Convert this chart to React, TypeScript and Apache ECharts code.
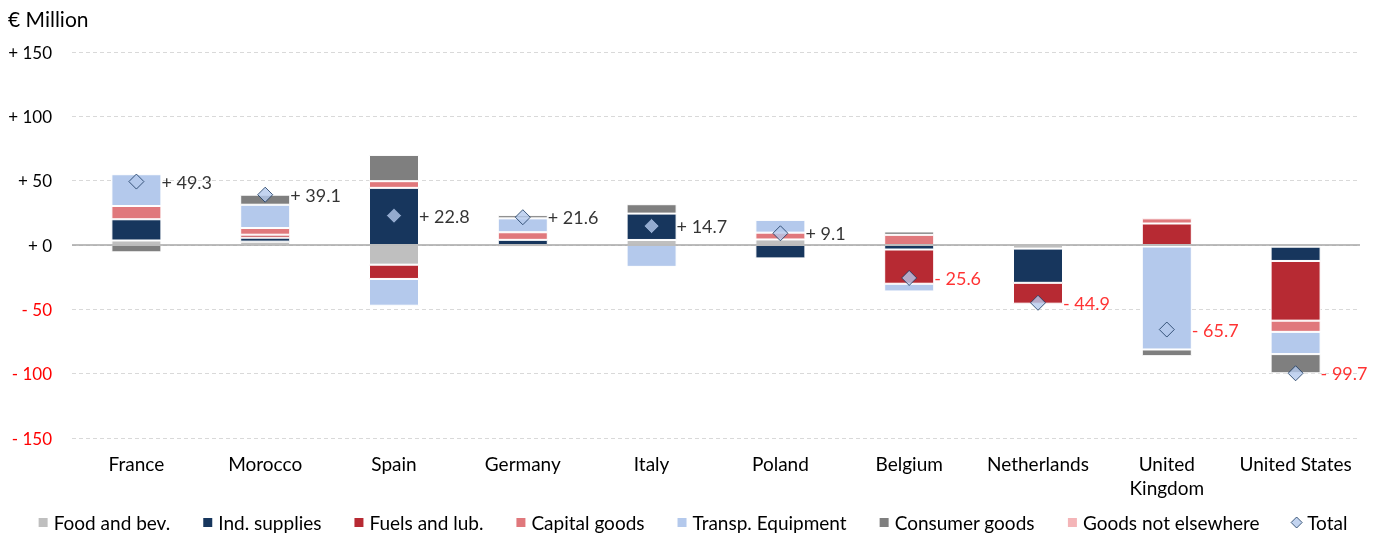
import React, { useEffect, useRef } from "react";
import * as echarts from "echarts";

const categories = ["France", "Morocco", "Spain", "Germany", "Italy", "Poland", "Belgium", "Netherlands", "United\nKingdom", "United States"];
const foodBev = [3.5, 2.6, -15.3, 0, 3.9, 4.3, 0, -2.8, -1.2, -1.3];
const indSupplies = [16.5, 3.1, 44.4, 4.0, 20.5, -10.4, -3.5, -26.6, 0, -11.1];
const fuelsLub = [0, 2.3, -11.1, -1.6, 0, 0, -26.6, -16.2, 16.7, -46.4];
const capitalGoods = [10.3, 5.2, 5.2, 5.9, 0, 5.3, 7.9, 0, 4.0, -8.7];
const transpEquipment = [24.7, 18.1, -20.8, 10.8, -17.0, 9.9, -6.0, 0, -80.0, -17.3];
const consumerGoods = [-5.7, 7.8, 20.4, 2.5, 7.3, 0, 2.6, 0, -5.2, -14.9];
const goodsNotElsewhere = [0, 0, 0, 0, 0, 0, 0, 0.7, 0, 0];
const totals = [49.3, 39.1, 22.8, 21.6, 14.7, 9.1, -25.6, -44.9, -65.7, -99.7];
const yTicks = { min: -150, max: 150, interval: 50 };

const seriesDefs = [
  { name: "Food and bev.", data: foodBev, color: "#bfbfbf" },
  { name: "Ind. supplies", data: indSupplies, color: "#17365d" },
  { name: "Fuels and lub.", data: fuelsLub, color: "#b72a33" },
  { name: "Capital goods", data: capitalGoods, color: "#e0787c" },
  { name: "Transp. Equipment", data: transpEquipment, color: "#b4c9ec" },
  { name: "Consumer goods", data: consumerGoods, color: "#7f7f7f" },
  { name: "Goods not elsewhere", data: goodsNotElsewhere, color: "#f4b5b8" },
];

const fmt = (v: number) => (v < 0 ? "- " + Math.abs(v) : "+ " + v);

export default function App() {
  const ref = useRef<HTMLDivElement>(null);
  useEffect(() => {
    if (!ref.current) return;
    const chart = echarts.init(ref.current, null, { renderer: "svg" });
    const font = "Lato, 'Open Sans', sans-serif";
    chart.setOption({
      animation: false,
      textStyle: { fontFamily: font },
      title: {
        text: "€ Million",
        left: 3,
        top: 3,
        textStyle: { fontFamily: font, fontSize: 21, fontWeight: "normal", color: "#000" },
      },
      grid: { left: 72, right: 24, top: 52, bottom: 102, containLabel: false, outerBoundsMode: "none" },
      legend: {
        top: 508,
        left: "center",
        itemWidth: 11,
        itemHeight: 11,
        itemGap: 31,
        textStyle: { fontFamily: font, fontSize: 19, color: "#000" },
        data: [
          ...seriesDefs.map((s) => ({ name: s.name, icon: "rect" })),
          { name: "Total", icon: "diamond", itemStyle: { color: "#b4c9ec", borderColor: "#17365d", borderWidth: 1 } },
        ],
      },
      xAxis: {
        type: "category",
        data: categories,
        axisLine: { show: false },
        axisTick: { show: false },
        axisLabel: {
          interval: 0,
          fontFamily: font,
          fontSize: 19,
          color: "#000",
          margin: 13,
          lineHeight: 24,
          verticalAlign: "top",
        },
      },
      yAxis: {
        type: "value",
        min: yTicks.min,
        max: yTicks.max,
        interval: yTicks.interval,
        axisLine: { show: false },
        axisTick: { show: false },
        splitLine: { lineStyle: { color: "#d9d9d9", type: [4, 3], width: 1 } },
        axisLabel: {
          fontFamily: font,
          fontSize: 17,
          margin: 20,
          formatter: (v: number) => fmt(v),
          color: (v: any) => (Number(v) < 0 ? "#ff0000" : "#000"),
        },
      },
      series: [
        ...seriesDefs.map((s) => ({
          name: s.name,
          type: "bar",
          stack: "total",
          barWidth: 50,
          data: s.data.map((v) => (v === 0 ? "-" : v)),
          itemStyle: { color: s.color, borderColor: "#ffffff", borderWidth: 1 },
        })),
        {
          name: "zero",
          type: "line",
          data: [],
          markLine: {
            silent: true,
            symbol: "none",
            label: { show: false },
            lineStyle: { color: "#a6a6a6", width: 1.5, type: "solid" },
            data: [{ yAxis: 0 }],
          },
        },
        {
          name: "Total",
          type: "scatter",
          symbol: "diamond",
          symbolSize: 15,
          z: 5,
          data: totals.map((v) => ({
            value: v,
            label: { color: v < 0 ? "#ff0000" : "#000" },
          })),
          itemStyle: { color: "#b4c9ec", borderColor: "#17365d", borderWidth: 1 },
          label: {
            show: true,
            position: "right",
            distance: 17,
            fontFamily: font,
            fontSize: 18,
            color: "#000",
            formatter: (p: any) => fmt(p.value),
          },
        },
      ],
    });
    return () => chart.dispose();
  }, []);
  return <div ref={ref} style={{ position: "fixed", left: 0, top: 0, width: 1384, height: 540 }} />;
}
